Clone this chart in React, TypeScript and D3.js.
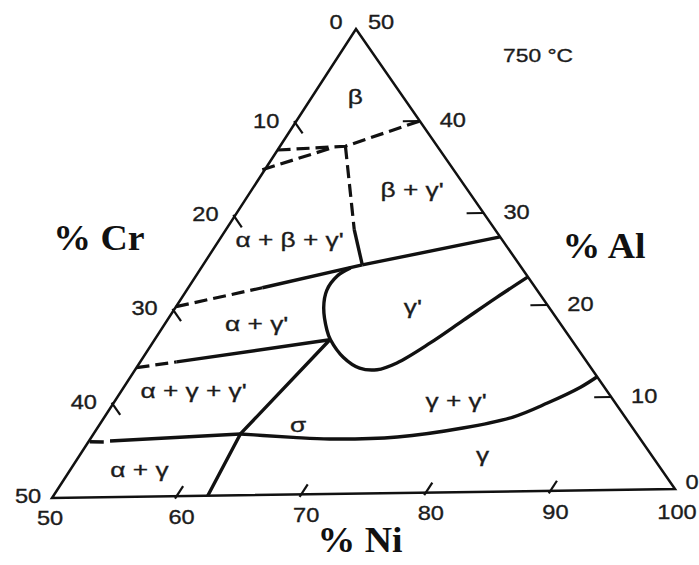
import React from "react";
import * as d3 from "d3";

const W = 699;
const H = 565;

type P = [number, number]; // [Al wt%, Cr wt%]

// ---- tick values ----
const niTicks = [60, 70, 80, 90];
const niLabels = [50, 60, 70, 80, 90, 100];
const crTicks = [10, 20, 30, 40];
const crLabels = [0, 10, 20, 30, 40, 50];
const alTicks = [10, 20, 30, 40];
const alLabels = [0, 10, 20, 30, 40, 50];

// ---- phase boundaries (Al, Cr) ----
const betaUpper: P[] = [[37.1, 12.9], [37.4, 7.3], [40, 0]];
const betaLower: P[] = [[35.0, 15.2], [37.2, 8.6]];
const vertDashed: P[] = [[37.4, 7.3], [28.4, 11.2]];
const vertSolid: P[] = [[28.4, 11.2], [24.6, 12.5]];
const gpTop: P[] = [[24.6, 12.5], [27.4, 0]];
const agpDashed: P[] = [[20.4, 29.6], [22.3, 21.7]];
const agpSolid: P[] = [[22.3, 21.7], [24.6, 12.5]];
const gpLoop: P[] = [
  [24.3, 13.6], [23.45, 15.1], [21.95, 16.7], [20.1, 17.9], [17.65, 18.9],
  [16.6, 19.15], [14.7, 19.1], [13.5, 18.4], [13.3, 17.1], [14.0, 15.15],
  [16.1, 11.4], [18.5, 7.5], [20.9, 3.6], [23.05, 0],
];
const aggpDashed: P[] = [[13.9, 36.1], [14.45, 32.6]];
const aggpSolid: P[] = [[14.45, 32.6], [16.6, 19.2]];
const diagLine: P[] = [[16.6, 19.2], [6.6, 31.5], [0, 37.5]];
const agStub: P[] = [[6.0, 43.9], [5.95, 42.8]];
const agLine: P[] = [[6.04, 42.25], [6.6, 31.5]];
const gammaCurve: P[] = [
  [6.6, 31.5], [6.4, 29.8], [6.15, 27.5], [5.92, 24.7], [6.03, 19.2],
  [6.89, 13.5], [8.0, 8.9], [9.45, 5.4], [11.1, 1.9], [12.2, 0],
];

// ---- phase labels ----
const phaseNames = ["β", "β + γ'", "α + β + γ'", "α + γ'", "γ'", "α + γ + γ'", "σ", "γ + γ'", "γ", "α + γ"];
const phaseAl = [42.7, 32.6, 27.4, 18.5, 20.0, 11.4, 7.5, 9.9, 4.0, 2.9];
const phaseCr = [3.8, 4.4, 16.9, 24.1, 10.8, 32.8, 26.4, 12.5, 13.4, 41.5];

// triangle corners on the page
const vT: [number, number] = [356, 29]; // Ni50 Al50 Cr0
const vL: [number, number] = [52, 498]; // Ni50 Al0 Cr50
const vR: [number, number] = [675, 489]; // Ni100

const alScale = d3.scaleLinear().domain([0, 50]).range([0, 1]);
const crScale = d3.scaleLinear().domain([0, 50]).range([0, 1]);

function proj(p: P): [number, number] {
  const a = alScale(p[0]);
  const c = crScale(p[1]);
  return [
    vR[0] + a * (vT[0] - vR[0]) + c * (vL[0] - vR[0]),
    vR[1] + a * (vT[1] - vR[1]) + c * (vL[1] - vR[1]),
  ];
}

function unit(from: [number, number], to: [number, number]): [number, number] {
  const dx = to[0] - from[0];
  const dy = to[1] - from[1];
  const l = Math.hypot(dx, dy);
  return [dx / l, dy / l];
}

const straight = d3
  .line<P>()
  .x((d) => proj(d)[0])
  .y((d) => proj(d)[1]);
const smooth = d3
  .line<P>()
  .x((d) => proj(d)[0])
  .y((d) => proj(d)[1])
  .curve(d3.curveCatmullRom.alpha(0.5));

const INK = "#111";
const TXT = "#1c1c1c";

function Label(props: { x: number; y: number; text: string; size?: number; sx?: number }) {
  const { x, y, text, size = 20, sx = 1.18 } = props;
  return (
    <text
      transform={`translate(${x},${y}) scale(${sx},1)`}
      textAnchor="middle"
      dominantBaseline="central"
      fontFamily="'Liberation Sans', Arial, sans-serif"
      fontSize={size}
      fill={TXT}
      stroke={TXT}
      strokeWidth={0.35}
    >
      {text}
    </text>
  );
}

export default function App() {
  const solid = [vertSolid, gpTop, agpSolid, aggpSolid, diagLine, agStub, agLine];
  const dashed = [betaUpper, betaLower, vertDashed, agpDashed, aggpDashed];
  const curves = [gpLoop, gammaCurve];

  const crDir = unit(vT, vR);
  const alDir = unit(vR, vL);
  const niDir = unit(vL, vT);

  const tick = (p: [number, number], dir: [number, number], len: number, out: number, key: string) => (
    <line
      key={key}
      x1={p[0] - dir[0] * out}
      y1={p[1] - dir[1] * out}
      x2={p[0] + dir[0] * len}
      y2={p[1] + dir[1] * len}
      stroke={INK}
      strokeWidth={2.2}
    />
  );

  return (
    <svg
      width={W}
      height={H}
      style={{ position: "fixed", left: 0, top: 0, background: "#fff" }}
    >
      <rect x={0} y={0} width={W} height={H} fill="#fff" />
      {/* triangle */}
      <path
        d={`M${vL[0]},${vL[1]}L${vT[0]},${vT[1]}L${vR[0]},${vR[1]}Z`}
        fill="none"
        stroke={INK}
        strokeWidth={2.5}
        strokeLinejoin="miter"
      />
      {/* ticks */}
      {crTicks.map((c) => tick(proj([50 - c, c]), crDir, 13, 2, "ct" + c))}
      {alTicks.map((a) => tick(proj([a, 0]), alDir, 17, 0, "at" + a))}
      {niTicks.map((n) => tick(proj([0, 100 - n]), niDir, 12, 3, "nt" + n))}
      {/* tick labels */}
      {crLabels.map((c) => {
        const p = proj([50 - c, c]);
        const off = c === 0 ? [-20, -7] : c === 50 ? [-24, -2] : [-29, -2];
        return <Label key={"cl" + c} x={p[0] + off[0]} y={p[1] + off[1]} text={String(c)} />;
      })}
      {alLabels.map((a) => {
        const p = proj([a, 0]);
        const off = a === 50 ? [25, -7] : a === 0 ? [17, -7] : [33, -1];
        return <Label key={"al" + a} x={p[0] + off[0]} y={p[1] + off[1]} text={String(a)} />;
      })}
      {niLabels.map((n) => {
        const p = proj([0, 100 - n]);
        const off = n === 50 ? [-2, 20] : n === 100 ? [2, 23] : [5, 21];
        return <Label key={"nl" + n} x={p[0] + off[0]} y={p[1] + off[1]} text={String(n)} />;
      })}
      {/* boundaries */}
      {solid.map((s, i) => (
        <path key={"s" + i} d={straight(s) || ""} fill="none" stroke={INK} strokeWidth={3.4} strokeLinejoin="round" />
      ))}
      {dashed.map((s, i) => (
        <path key={"d" + i} d={straight(s) || ""} fill="none" stroke={INK} strokeWidth={3.2} strokeDasharray="13 6" />
      ))}
      {curves.map((s, i) => (
        <path key={"c" + i} d={smooth(s) || ""} fill="none" stroke={INK} strokeWidth={3.4} strokeLinejoin="round" />
      ))}
      {/* phase labels */}
      {phaseNames.map((n, i) => {
        const p = proj([phaseAl[i], phaseCr[i]]);
        return <Label key={"ph" + i} x={p[0]} y={p[1]} text={n} size={21} sx={1.25} />;
      })}
      {/* temperature */}
      <Label x={538} y={55} text="750 °C" size={19} sx={1.2} />
      {/* axis titles */}
      {[
        { t: "% Cr", x: 99, y: 250 },
        { t: "% Al", x: 604, y: 258 },
        { t: "% Ni", x: 360, y: 552 },
      ].map((a) => (
        <text
          key={a.t}
          transform={`translate(${a.x},${a.y}) scale(1.08,1)`}
          textAnchor="middle"
          fontFamily="'Liberation Serif', 'Times New Roman', serif"
          fontWeight="bold"
          fontSize={35}
          fill="#111"
        >
          {a.t}
        </text>
      ))}
    </svg>
  );
}
